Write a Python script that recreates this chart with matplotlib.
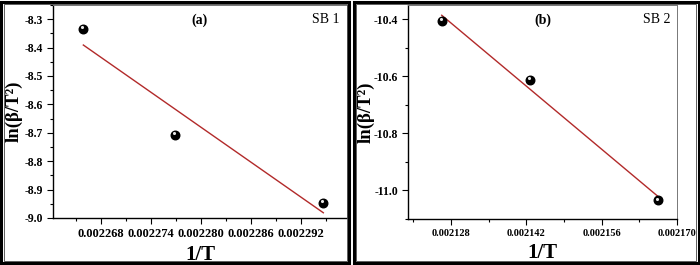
import numpy as np
import matplotlib.pyplot as plt
from matplotlib.patches import Rectangle
from matplotlib.ticker import FormatStrFormatter, MultipleLocator

plt.rcParams['font.family'] = ['Liberation Serif', 'DejaVu Serif']
plt.rcParams['axes.unicode_minus'] = False

# SB 1
x_a = [0.00226588, 0.00227688, 0.00229468]
y_a = [-8.335, -8.707, -8.947]
xticks_a = [0.002268, 0.002274, 0.002280, 0.002286, 0.002292]
yticks_a = [-8.3, -8.4, -8.5, -8.6, -8.7, -8.8, -8.9, -9.0]

# SB 2
x_b = [0.00212627, 0.00214261, 0.00216654]
y_b = [-10.405, -10.612, -11.035]
xticks_b = [0.002128, 0.002142, 0.002156, 0.002170]
yticks_b = [-10.4, -10.6, -10.8, -11.0]

fig = plt.figure(figsize=(7, 2.65), dpi=100)

# panel frames
for x0, w in [(0.002, 0.497), (0.505, 0.493)]:
    fig.patches.append(Rectangle((x0, 0.006), w, 0.988, transform=fig.transFigure,
                                 fill=False, lw=2.2, ec='black'))
    fig.patches.append(Rectangle((x0 + 0.004, 0.016), w - 0.008, 0.968,
                                 transform=fig.transFigure, fill=False, lw=0.6, ec='#444444'))

ax1 = fig.add_axes([53/700, 1 - 218/265, (347-53)/700, (218-5)/265])
ax2 = fig.add_axes([408/700, 1 - 219/265, (677-408)/700, (219-5)/265])


def draw(ax, x, y, xticks, yticks, xlim, ylim, xminor, yminor, xfs, ylab_x, tag, name):
    x = np.array(x)
    y = np.array(y)
    k, b = np.polyfit(x, y, 1)
    ax.plot(x, k*x + b, color='#b22a2a', lw=1.0, zorder=2)
    ax.scatter(x, y, s=38, color='black', zorder=3)
    ax.scatter(x - (xlim[1]-xlim[0])*0.004, y + (ylim[1]-ylim[0])*0.009, s=5,
               color='#e8e8e8', zorder=4, lw=0)
    ax.set_xlim(*xlim)
    ax.set_ylim(*ylim)
    ax.set_xticks(xticks)
    ax.set_yticks(yticks)
    ax.xaxis.set_minor_locator(MultipleLocator(xminor))
    ax.yaxis.set_minor_locator(MultipleLocator(yminor))
    ax.xaxis.set_major_formatter(FormatStrFormatter('%.6f'))
    ax.yaxis.set_major_formatter(FormatStrFormatter('%.1f'))
    ax.tick_params(which='both', direction='out', top=False, right=False)
    ax.tick_params(which='major', length=4, width=0.8, pad=3)
    ax.tick_params(which='minor', length=2.5, width=0.8)
    ax.tick_params(axis='x', labelsize=xfs)
    ax.tick_params(axis='y', labelsize=8.5)
    for lab in ax.get_xticklabels() + ax.get_yticklabels():
        lab.set_fontweight('bold')
    for s in ['top', 'right']:
        ax.spines[s].set_color('#777777')
        ax.spines[s].set_linewidth(0.7)
    for s in ['left', 'bottom']:
        ax.spines[s].set_linewidth(1.0)
    ax.set_xlabel('1/T', fontsize=15, fontweight='bold', labelpad=4)
    ax.set_ylabel('ln(β/T²)', fontsize=13.5, fontweight='bold')
    ax.yaxis.set_label_coords(ylab_x, 0.5)
    ax.text(0.5, 0.93, tag, transform=ax.transAxes, ha='center', va='center',
            fontsize=10, fontweight='bold')
    ax.text(0.975, 0.93, name, transform=ax.transAxes, ha='right', va='center', fontsize=10)


draw(ax1, x_a, y_a, xticks_a, yticks_a, (0.00226224, 0.00229752), (-9.0, -8.25),
     0.000003, 0.05, 9, -0.102, '(a)', 'SB 1')
draw(ax2, x_b, y_b, xticks_b, yticks_b, (0.002120, 0.002170), (-11.1, -10.35),
     0.000007, 0.1, 7.5, -0.123, '(b)', 'SB 2')

fig.savefig('out.png', dpi=100)
